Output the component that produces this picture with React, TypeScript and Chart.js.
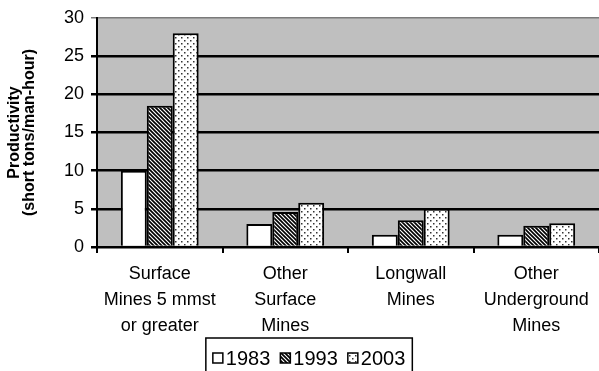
import React, { useEffect, useRef } from "react";
import { Chart, registerables } from "chart.js";

Chart.register(...registerables);

const categories: string[][] = [
  ["Surface", "Mines 5 mmst", "or greater"],
  ["Other", "Surface", "Mines"],
  ["Longwall", "Mines"],
  ["Other", "Underground", "Mines"],
];
const seriesLabels = ["1983", "1993", "2003"];
const values1983 = [10, 3.0, 1.6, 1.6];
const values1993 = [18.5, 4.6, 3.5, 2.8];
const values2003 = [28, 5.8, 5.0, 3.1];
const yTicks = [0, 5, 10, 15, 20, 25, 30];

function makePattern(kind: string): CanvasPattern | string {
  if (kind === "white") return "#ffffff";
  const c = document.createElement("canvas");
  const ctx = c.getContext("2d")!;
  if (kind === "stripes") {
    c.width = 8;
    c.height = 8;
    ctx.fillStyle = "#ffffff";
    ctx.fillRect(0, 0, 8, 8);
    ctx.strokeStyle = "#000000";
    ctx.lineWidth = 1.7;
    for (let o = -8; o <= 8; o += 4) {
      ctx.beginPath();
      ctx.moveTo(o - 1, -1);
      ctx.lineTo(o + 9, 9);
      ctx.stroke();
    }
  } else {
    c.width = 6;
    c.height = 6;
    ctx.fillStyle = "#ffffff";
    ctx.fillRect(0, 0, 6, 6);
    ctx.fillStyle = "#333333";
    ctx.fillRect(1, 1, 1.5, 1.5);
    ctx.fillRect(4, 4, 1.5, 1.5);
  }
  return ctx.createPattern(c, "repeat")!;
}

export default function App() {
  const ref = useRef<HTMLCanvasElement>(null);
  useEffect(() => {
    const fills = [makePattern("white"), makePattern("stripes"), makePattern("dots")];
    const bgPlugin = {
      id: "plotBg",
      beforeDraw(chart: any) {
        const { ctx, chartArea } = chart;
        ctx.save();
        ctx.fillStyle = "#bfbfbf";
        ctx.fillRect(chartArea.left, chartArea.top, chartArea.right - chartArea.left, chartArea.bottom - chartArea.top);
        ctx.restore();
      },
    };
    const legendPlugin = {
      id: "boxLegend",
      afterDraw(chart: any) {
        const { ctx } = chart;
        ctx.save();
        ctx.font = "20px 'Liberation Sans', Arial, sans-serif";
        ctx.textBaseline = "middle";
        const box = 10;
        const gap = 3;
        const itemGap = 10;
        const widths = seriesLabels.map((s) => box + gap + ctx.measureText(s).width);
        const total = widths.reduce((a, b) => a + b, 0) + itemGap * (seriesLabels.length - 1);
        const cx = chart.width * 0.516;
        const top = chart.chartArea.bottom + 91;
        const cy = top + 20;
        const padX = 7;
        let x = cx - total / 2;
        ctx.strokeStyle = "#000";
        ctx.lineWidth = 1.5;
        ctx.strokeRect(x - padX, top, total + padX * 2, 60);
        seriesLabels.forEach((s, i) => {
          ctx.fillStyle = fills[i] as any;
          ctx.fillRect(x, cy - box / 2, box, box);
          ctx.strokeStyle = "#000";
          ctx.lineWidth = 1.5;
          ctx.strokeRect(x, cy - box / 2, box, box);
          ctx.fillStyle = "#000";
          ctx.fillText(s, x + box + gap, cy + 1);
          x += widths[i] + itemGap;
        });
        ctx.restore();
      },
    };
    const mk = (i: number, data: number[]) => ({
      label: seriesLabels[i],
      data,
      backgroundColor: fills[i] as any,
      borderColor: "#000000",
      borderWidth: 2,
      borderSkipped: "bottom" as const,
      categoryPercentage: 0.62,
      barPercentage: 1.0,
    });
    const chart = new Chart(ref.current!, {
      type: "bar",
      data: {
        labels: categories,
        datasets: [mk(0, values1983), mk(1, values1993), mk(2, values2003)],
      },
      options: {
        animation: false,
        responsive: true,
        maintainAspectRatio: false,
        layout: { padding: { top: 18, left: 0, right: 0, bottom: 0 } },
        plugins: { legend: { display: false }, tooltip: { enabled: false } },
        scales: {
          x: {
            offset: true,
            grid: {
              offset: true,
              drawOnChartArea: false,
              drawTicks: true,
              tickLength: 6,
              color: "#000",
              lineWidth: 2,
            },
            border: { display: true, color: "#000", width: 2 },
            ticks: {
              color: "#000",
              font: { family: "'Liberation Sans', Arial, sans-serif", size: 18, lineHeight: 1.45 },
              padding: 8,
              maxRotation: 0,
              autoSkip: false,
            },
            afterFit(scale: any) {
              scale.height = 124;
            },
          },
          y: {
            min: 0,
            max: 30,
            afterBuildTicks(scale: any) {
              scale.ticks = yTicks.map((v) => ({ value: v }));
            },
            grid: {
              color: (c: any) => (c.tick && c.tick.value === 30 ? "#7a7a7a" : "#000"),
              lineWidth: (c: any) => (c.tick && c.tick.value === 30 ? 1.5 : 2.5),
              drawTicks: true,
              tickLength: 6,
            },
            border: { display: true, color: "#000", width: 2 },
            ticks: {
              color: "#000",
              font: { family: "'Liberation Sans', Arial, sans-serif", size: 18 },
              padding: 7,
            },
            title: {
              display: true,
              text: ["Productivity", "(short tons/man-hour)"],
              color: "#000",
              font: { family: "'Liberation Sans', Arial, sans-serif", size: 16, weight: "bold", lineHeight: 0.95 },
              padding: { top: 7, bottom: 0 },
            },
            afterFit(scale: any) {
              scale.width = 97;
            },
          },
        },
      },
      plugins: [bgPlugin, legendPlugin],
    });
    return () => chart.destroy();
  }, []);
  return (
    <div style={{ position: "absolute", left: 0, top: 0, width: 599, height: 371, background: "#fff" }}>
      <canvas ref={ref} />
    </div>
  );
}
